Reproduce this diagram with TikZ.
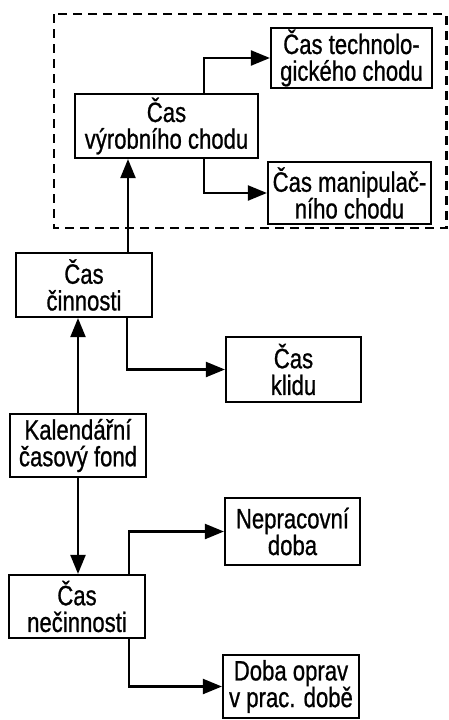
\documentclass[tikz,border=0pt]{standalone}
\usepackage{fontspec}
\setmainfont{Liberation Sans}[FakeStretch=0.79,FakeBold=0.8]
\usetikzlibrary{arrows.meta,calc}
\begin{document}
\begin{tikzpicture}[x=1pt,y=-1pt,
  box/.style={draw, line width=2.2pt, align=center, inner sep=0pt,
    font=\fontsize{28}{26.7}\selectfont},
  link/.style={line width=2.2pt, -{Triangle[length=19pt,width=15pt]}},
  frame/.style={line width=2.2pt, dash pattern=on 9pt off 6pt}]
\useasboundingbox (0,0) rectangle (448,720);

% production-run group
\node[box, minimum width=161pt, minimum height=60pt] (tech) at (351.5,58) {Čas technolo-\\gického chodu};
\node[box, minimum width=183pt, minimum height=64pt] (vyr) at (166.5,126) {Čas\\výrobního chodu};
\node[box, minimum width=163pt, minimum height=62pt] (manip) at (349.5,193) {Čas manipulač-\\ního chodu};
\draw[frame] (54,14) rectangle (446.5,228);

% activity / inactivity
\node[box, minimum width=136pt, minimum height=64pt] (cin) at (84,285) {Čas\\činnosti};
\node[box, minimum width=135pt, minimum height=65pt] (klid) at (293.5,369.5) {Čas\\klidu};
\node[box, minimum width=136pt, minimum height=63pt] (kal) at (78,445.5) {Kalendářní\\časový fond};
\node[box, minimum width=136pt, minimum height=63pt] (necin) at (77,606.5) {Čas\\nečinnosti};
\node[box, minimum width=135pt, minimum height=67pt] (neprac) at (292.5,531.5) {Nepracovní\\doba};
\node[box, minimum width=136pt, minimum height=63pt] (oprav) at (291,686.5) {Doba oprav\\v prac. době};

% taps on box edges
\coordinate (cinT) at ($(cin.north)+(44,0)$);
\coordinate (cinB) at ($(cin.south)+(43,0)$);
\coordinate (vyrT) at ($(vyr.north)+(37.5,0)$);
\coordinate (vyrB) at ($(vyr.south)+(37.5,0)$);
\coordinate (necT) at ($(necin.north)+(52,0)$);
\coordinate (necB) at ($(necin.south)+(52,0)$);

% connectors
\draw[link] (kal.north) -- (kal.north |- cin.south);
\draw[link] (kal.south) -- (kal.south |- necin.north);
\draw[link] (cinT) -- (cinT |- vyr.south);
\draw[link] (cinB) |- (klid.west);
\draw[link] (vyrT) |- (tech.west);
\draw[link] (vyrB) |- (manip.west);
\draw[link] (necT) |- (neprac.west);
\draw[link] (necB) |- (oprav.west);
\end{tikzpicture}
\end{document}
